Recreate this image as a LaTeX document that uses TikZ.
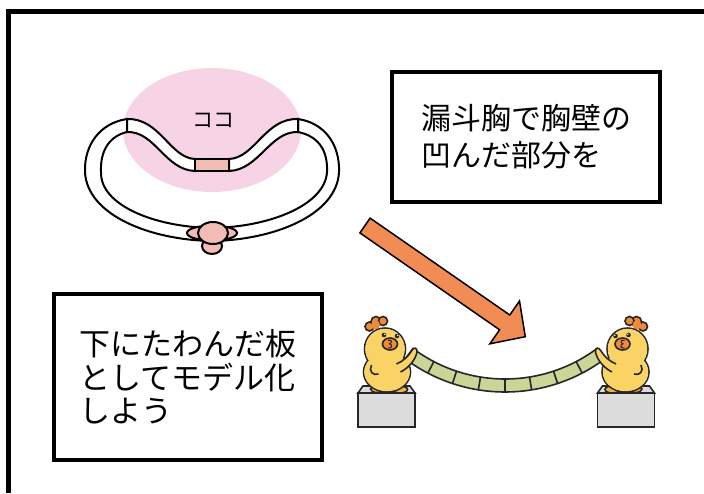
\documentclass[tikz,border=0pt]{standalone}
\usepackage{fontspec}
\newfontfamily\jpfont{Noto Sans CJK JP}

\definecolor{blushpink}{HTML}{F6D4E6}
\definecolor{bonepink}{HTML}{F2BBB3}
\definecolor{arroworange}{HTML}{F28C55}
\definecolor{plankgreen}{HTML}{CAD598}
\definecolor{chickyellow}{HTML}{F9D464}
\definecolor{chickfeet}{HTML}{F2B43F}
\definecolor{crestorange}{HTML}{F08A3A}
\definecolor{standgray}{HTML}{DCDCDC}
\definecolor{inkline}{HTML}{262626}

% one chick standing on its block, x measured from the block centre
\tikzset{
  chickline/.style={draw=inkline,line width=1.6pt},
  chick/.pic={
    % block
    \draw[chickline,fill=standgray] (-28.5,393) -- (-23.5,386) -- (23.5,386) -- (28.5,393) -- cycle;
    \draw[chickline,fill=standgray] (-28.5,393) rectangle (28.5,427);
    % crest and feet
    \draw[chickline,fill=crestorange] (-17,326.5) circle (4.5);
    \draw[chickline,fill=crestorange] (-10.5,321.5) circle (5);
    \draw[chickline,fill=crestorange] (-3.5,321) circle (4.5);
    \fill[crestorange] (-11,325) circle (4.5);
    \draw[chickline,fill=chickfeet] (-9.5,389) ellipse (6.5 and 3.5);
    \draw[chickline,fill=chickfeet] (13.5,389.5) ellipse (7.5 and 3.5);
    % body and head as one outline
    \draw[chickline] (0.5,372) ellipse (23.5 and 20);
    \draw[chickline] (-1.5,349) ellipse (20.5 and 21);
    \fill[chickyellow] (0.5,372) ellipse (22.7 and 19.2);
    \fill[chickyellow] (-1.5,349) ellipse (19.7 and 20.2);
    % wings
    \fill[chickyellow] (10,364) .. controls (17,361) and (22,356) .. (25,351)
      .. controls (27,347) and (31,347) .. (30.5,352)
      .. controls (29,360) and (22,368) .. (14,372) -- cycle;
    \draw[chickline] (10,364) .. controls (17,361) and (22,356) .. (25,351)
      .. controls (27,347) and (31,347) .. (30.5,352)
      .. controls (29,360) and (22,368) .. (14,372);
    \draw[chickline] (-15,365) .. controls (-18,371) and (-14,376) .. (-8,374);
    % face
    \fill[inkline] (-2.5,335) circle (2.3);
    \fill[inkline] (10.5,336) circle (2.3);
    \fill[white] (-1.8,334.3) circle (0.8);
    \fill[white] (11.2,335.3) circle (0.8);
    \draw[chickline,fill=crestorange] (3.5,344) ellipse (7.5 and 6);
    \draw[draw=inkline,line width=1pt] (1.5,340.5) .. controls (5.5,339) and (6,342.8) .. (3,343.8)
      .. controls (6.5,344.8) and (5.5,349.2) .. (1.5,347.8);
  }
}

\begin{document}
\begin{tikzpicture}[x=1pt,y=-1pt,
    ribline/.style={draw=black,line width=2pt},
    textbox/.style={draw,line width=4pt,align=left,inner sep=0pt}]
  \useasboundingbox (0,0) rectangle (704,493);
  \fill[white] (0,0) rectangle (704,493);

  % panel frame
  \draw[line width=5pt] (8,493) -- (8,11) -- (704,11);

  % Chest cross-section
  \fill[blushpink] (212,130) ellipse (89 and 62);
  \node[font=\jpfont\fontsize{21}{21}\selectfont] (here) at (213,120) {ココ};
  \draw[ribline,fill=white] (127,119) .. controls (100,123) and (84,145) .. (85,172)
    .. controls (87,215) and (150,240) .. (212,241)
    .. controls (274,240) and (337,215) .. (339,172)
    .. controls (340,145) and (325,123) .. (298,119) -- (298,132)
    .. controls (318,136) and (328,150) .. (327,172)
    .. controls (325,205) and (270,227) .. (212,228)
    .. controls (154,227) and (100,205) .. (101,172)
    .. controls (100,150) and (110,136) .. (127,132) -- cycle;
  \draw[ribline,fill=white] (127,119) .. controls (160,118) and (170,158) .. (195,159)
    -- (195,171) .. controls (165,170) and (155,131) .. (127,132) -- cycle;
  \draw[ribline,fill=white] (298,119) .. controls (265,118) and (255,158) .. (229,159)
    -- (229,171) .. controls (259,170) and (270,131) .. (298,132) -- cycle;
  \draw[ribline,fill=bonepink] (195,159) rectangle (229,171);
  % vertebra
  \draw[ribline,fill=bonepink] (212,233) ellipse (25 and 7.5);
  \draw[ribline,fill=bonepink] (212,246) ellipse (10 and 8);
  \draw[ribline,fill=bonepink] (213,233) ellipse (15 and 11);

  % Arrow
  \draw[line width=1.5pt,fill=arroworange,line join=miter]
    (359.9,232.9) -- (370.1,218.1) -- (509.8,315.0) -- (519.5,301.0)
    -- (525.3,336.7) -- (489.9,343.8) -- (499.6,329.8) -- cycle;

  % Text boxes
  \node[textbox,font=\jpfont\fontsize{30}{37}\selectfont,
        minimum width=268pt,minimum height=130pt] (chest) at (526,137)
    {漏斗胸で胸壁の\\凹んだ部分を};
  \node[textbox,font=\jpfont\fontsize{31}{33.5}\selectfont,
        minimum width=268pt,minimum height=166pt] (model) at (188,377)
    {下にたわんだ板\\としてモデル化\\しよう};

  % Plank held by two chicks
  \begin{scope}[shift={(505,225)}]
    \draw[chickline,fill=plankgreen] (126.7:154) arc[start angle=126.7,end angle=53.3,radius=154]
      -- (53.3:167) arc[start angle=53.3,end angle=126.7,radius=167] -- cycle;
    \foreach \k in {1,...,7}
      \draw[chickline] ({126.7-\k*9.175}:154) -- ({126.7-\k*9.175}:167);
  \end{scope}
  \pic at (386.5,0) {chick};
  \pic[xscale=-1] at (626,0) {chick};
\end{tikzpicture}
\end{document}
